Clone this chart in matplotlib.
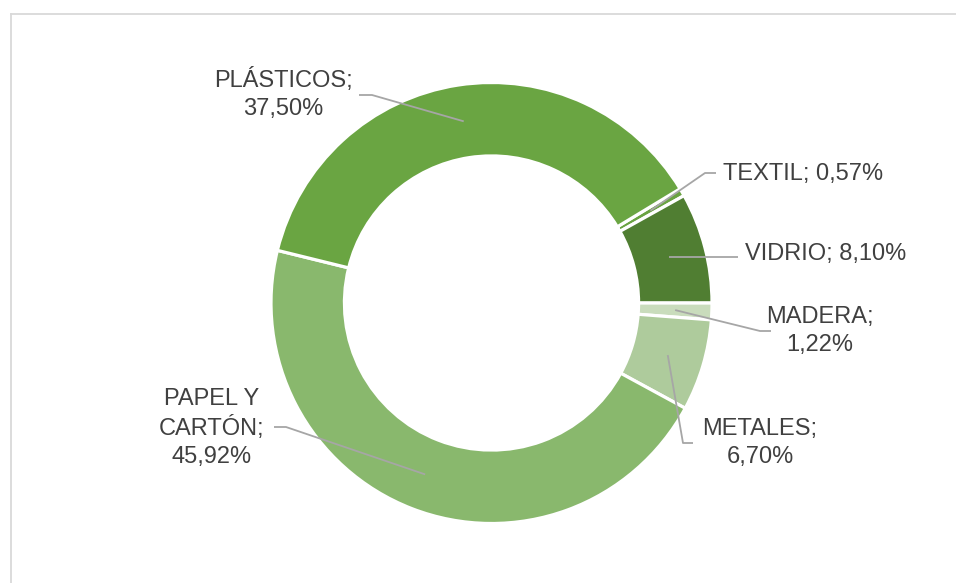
import numpy as np
import matplotlib
matplotlib.use("Agg")
import matplotlib.pyplot as plt
from matplotlib.lines import Line2D

plt.rcParams['font.family'] = ['Liberation Sans', 'DejaVu Sans']

# datos (en el orden en que se dibujan, sentido horario)
categorias = ["TEXTIL", "VIDRIO", "MADERA", "METALES", "PAPEL Y\nCARTÓN", "PLÁSTICOS"]
porcentajes = [0.57, 8.10, 1.22, 6.70, 45.92, 37.50]
etiquetas = ["TEXTIL; 0,57%", "VIDRIO; 8,10%", "MADERA;\n1,22%", "METALES;\n6,70%",
             "PAPEL Y\nCARTÓN;\n45,92%", "PLÁSTICOS;\n37,50%"]
colores = ["#6aa342", "#507e32", "#c9dcbc", "#aecb9c", "#89b86d", "#6aa542"]

W, H = 956, 583
CX, CY, R = 491.5, 303, 220.5   # centro y radio en píxeles
ANCHO = 0.333


def px(x, y):
    # píxeles (desde arriba-izquierda) -> coordenadas de datos
    return (x - CX) / R, (CY - y) / R


# posición del texto, alineación, codo y extremo de la línea guía (píxeles)
layout = [
    ((723, 174), "left", (705, 173), (716, 173)),
    ((745, 254), "left", (700, 254), (738, 254)),
    ((820, 331), "center", (760, 331), (771, 331)),
    ((760, 443), "center", (683, 443), (693, 443)),
    ((212, 428), "center", (286, 427), (274, 427)),
    ((283, 94), "center", (372, 95), (359, 95)),
]

fig = plt.figure(figsize=(W / 100, H / 100), dpi=100)
ax = fig.add_axes([0, 0, 1, 1])

wedges, _ = ax.pie(porcentajes, colors=colores, startangle=90 - 58.8, counterclock=False,
                   radius=1.0, wedgeprops=dict(width=ANCHO, edgecolor="white", linewidth=2.3))
ax.set_aspect("auto")
ax.set_xlim(px(0, 0)[0], px(W, 0)[0])
ax.set_ylim(px(0, H)[1], px(0, 0)[1])
ax.axis("off")

for w, lab, (tpos, ha, elbow, tend) in zip(wedges, etiquetas, layout):
    ang = np.deg2rad((w.theta1 + w.theta2) / 2)
    rm = 1 - ANCHO / 2
    p0 = (rm * np.cos(ang), rm * np.sin(ang))
    e = px(*elbow)
    t = px(*tend)
    if lab.startswith("VIDRIO"):
        xs, ys = [p0[0], t[0]], [p0[1], p0[1]]
    else:
        xs, ys = [p0[0], e[0], t[0]], [p0[1], e[1], t[1]]
    ax.plot(xs, ys, color="#a6a6a6", lw=1.3, solid_capstyle="butt")
    tx, ty = px(*tpos)
    ax.text(tx, ty, lab, ha=ha, va="center", fontsize=17, color="#404040",
            multialignment="center", linespacing=1.32)

# borde del área del gráfico
fig.add_artist(Line2D([11 / W, 1], [1 - 14 / H, 1 - 14 / H], color="#d9d9d9", lw=1.3))
fig.add_artist(Line2D([11 / W, 11 / W], [0, 1 - 14 / H], color="#d9d9d9", lw=1.3))

fig.savefig("out.png", dpi=100, facecolor="white")
